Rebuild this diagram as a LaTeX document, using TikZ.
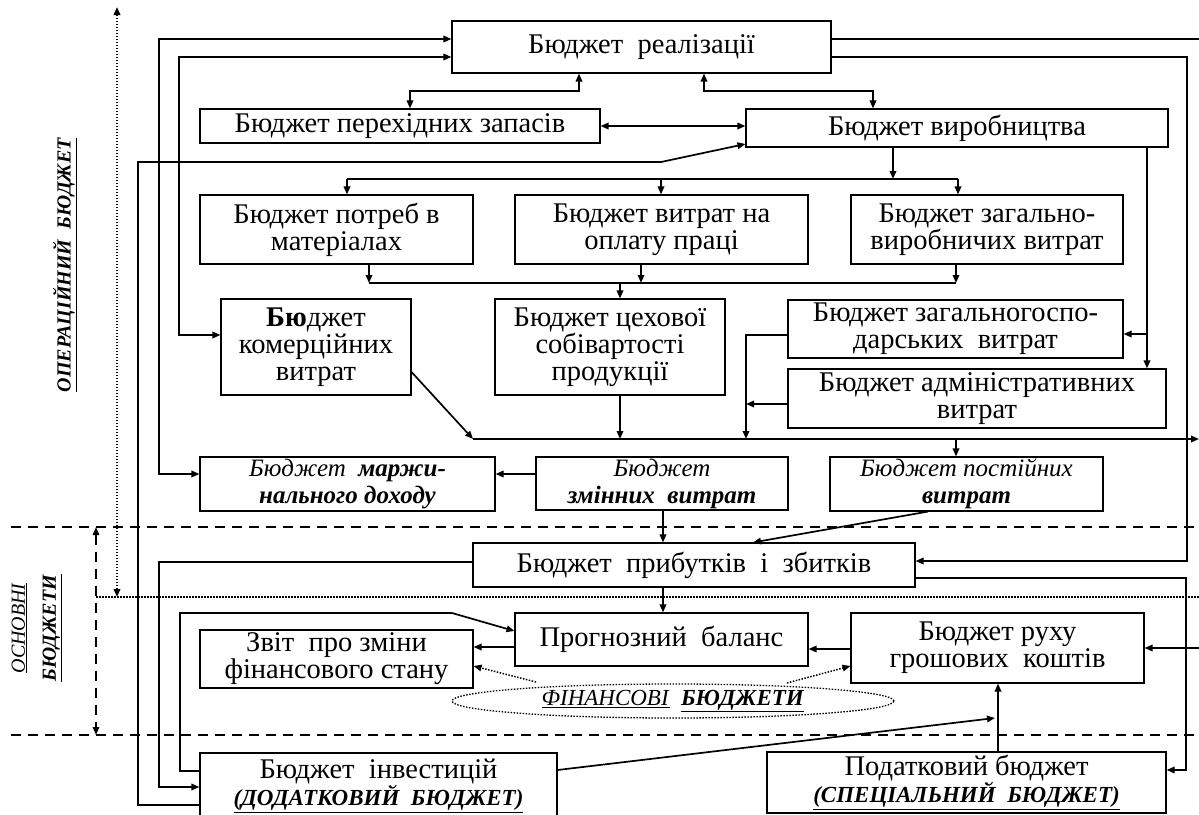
\documentclass[tikz,border=0pt]{standalone}
\usepackage{fontspec}
\setmainfont{Liberation Serif}
\usetikzlibrary{arrows.meta,shapes.geometric}
\newcommand{\bxfont}{\fontsize{28.5}{27}\selectfont}
\newcommand{\itfont}{\fontsize{25}{27}\selectfont}
\newcommand{\capfont}{\fontsize{23}{26}\selectfont}
\begin{document}
\begin{tikzpicture}[x=1pt,y=-1pt,
  box/.style={draw, line width=1.1pt, align=center, inner sep=0pt, font=\bxfont},
  ibox/.style={box, font=\itfont},
  con/.style={line width=1.7pt},
  tip/.tip={Triangle[length=8pt,width=6.5pt]},
  arr/.style={con, -tip},
  darr/.style={con, tip-tip},
  sep/.style={line width=1.5pt, dash pattern=on 10pt off 7pt},
  dotl/.style={line width=1.5pt, dash pattern=on 1.5pt off 1.5pt},
]
\useasboundingbox (0,0) rectangle (1199,814);
\clip (0,0) rectangle (1199,814);

% boxes
\node[box, minimum width=379pt, minimum height=52pt] (real) at (641.5,47) {Бюджет\ \ реалізації};
\node[box, minimum width=400pt, minimum height=34pt] (zap) at (400,126) {Бюджет перехідних запасів};
\node[box, minimum width=422pt, minimum height=38pt] (vyr) at (957,128) {Бюджет виробництва};
\node[box, minimum width=273pt, minimum height=69pt] (potr) at (336.5,229.5) {Бюджет потреб в\\матеріалах};
\node[box, minimum width=293pt, minimum height=69pt] (opl) at (661.5,229.5) {Бюджет витрат на\\оплату праці};
\node[box, minimum width=272pt, minimum height=69pt] (zagv) at (987,229.5) {Бюджет загально-\\виробничих витрат};
\node[box, minimum width=190pt, minimum height=96pt] (kom) at (316,347) {\textbf{Бю}джет\\комерційних\\витрат};
\node[box, minimum width=230pt, minimum height=96pt] (tsekh) at (610,347) {Бюджет цехової\\собівартості\\продукції};
\node[box, minimum width=335pt, minimum height=58pt] (zagg) at (955.5,329) {Бюджет загальногоспо-\\дарських\ \ витрат};
\node[box, minimum width=378pt, minimum height=59pt] (adm) at (977,398.5) {Бюджет адміністративних\\витрат};
\node[ibox, minimum width=295pt, minimum height=54pt] (marzh) at (347.5,484) {\textit{Бюджет}\ \ \textbf{\textit{маржи-}}\\\textbf{\textit{нального доходу}}};
\node[ibox, minimum width=252pt, minimum height=53pt] (zmin) at (662,483.5) {\textit{Бюджет}\\\textbf{\textit{змінних\ \ витрат}}};
\node[ibox, minimum width=273pt, minimum height=54pt] (post) at (966.5,484) {\textit{Бюджет постійних}\\\textbf{\textit{витрат}}};
\node[box, minimum width=442pt, minimum height=44pt] (prib) at (694,565) {Бюджет\ \ прибутків\ \ і\ \ збитків};
\node[box, minimum width=293pt, minimum height=53pt] (prog) at (661.5,639.5) {Прогнозний\ \ баланс};
\node[box, minimum width=273pt, minimum height=58pt] (zvit) at (336.5,659) {Звіт\ \ про зміни\\фінансового стану};
\node[box, minimum width=293pt, minimum height=70pt] (rukh) at (997.5,648) {Бюджет руху\\грошових\ \ коштів};
\node[box, minimum width=357pt, minimum height=66pt] (inv) at (378.5,786) {Бюджет\ \ інвестицій\\{\capfont\underline{\textbf{\textit{(ДОДАТКОВИЙ\ \ БЮДЖЕТ)}}}}};
\node[box, minimum width=399pt, minimum height=61pt] (podat) at (966.5,782.5) {Податковий бюджет\\{\capfont\underline{\textbf{\textit{(СПЕЦІАЛЬНИЙ\ \ БЮДЖЕТ)}}}}};
\node[draw, ellipse, dotl, line width=1.3pt, minimum width=442pt, minimum height=34pt, inner sep=0pt, font=\fontsize{23}{24}\selectfont] (fin) at (673,701) {\underline{\textit{ФІНАНСОВІ}}\ \ \underline{\textbf{\textit{БЮДЖЕТИ}}}};

% side labels
\node[rotate=90, font=\fontsize{20}{22}\selectfont] (oplab) at (65,265) {\underline{\textbf{\textit{ОПЕРАЦІЙНИЙ\ \ БЮДЖЕТ}}}};
\node[rotate=90, align=center, font=\fontsize{20}{31}\selectfont] (oslab) at (37,628) {\underline{\textit{ОСНОВНІ}}\\\underline{\textbf{\textit{БЮДЖЕТИ}}}};

% separators
\coordinate (sa) at (11,527); \coordinate (sb) at (1199,527);
\coordinate (sc) at (11,735); \coordinate (sd) at (1199,735);
\coordinate (se) at (96,597); \coordinate (sf) at (1199,597);
\draw[sep] (sa) -- (sb);
\draw[sep] (sc) -- (sd);
\draw[dotl] (se) -- (sf);
\coordinate (va) at (96,527); \coordinate (vb) at (96,735);
\draw[sep, tip-tip] (va) -- (vb);
\coordinate (vc) at (117,7); \coordinate (vd) at (117,597);
\draw[dotl, line width=2pt, tip-tip] (vc) -- (vd);

% top connections
\draw[darr] (real.south -| 579,0) -- (579,91) -- (410,91) -- (zap.north -| 410,0);
\draw[darr] (real.south -| 704,0) -- (704,91) -- (873,91) -- (vyr.north -| 873,0);
\draw[darr] (zap.east) -- (vyr.west |- zap.east);
\draw[arr] (inv.west |- 0,805) -- (138,805) -- (138,162) -- (661,162) -- (vyr.west |- 0,144);
\draw[darr] (real.west |- 0,57) -- (179,57) -- (179,335) -- (kom.west |- 0,335);
\draw[darr] (real.west |- 0,39) -- (159,39) -- (159,474) -- (marzh.west |- 0,474);

% distribution from production budget
\coordinate (d1) at (347,179); \coordinate (d2) at (958,179);
\coordinate (dm) at (893,179); \coordinate (dc) at (661,179);
\draw[arr] (vyr.south -| dm) -- (dm);
\draw[con] (d1) -- (d2);
\draw[arr] (d1) -- (potr.north -| d1);
\draw[arr] (dc) -- (opl.north -| dc);
\draw[arr] (d2) -- (zagv.north -| d2);

% collector to shop cost
\coordinate (c1) at (369,283); \coordinate (c2) at (641,283);
\coordinate (c3) at (956,283); \coordinate (c4) at (620,283);
\draw[arr] (potr.south -| c1) -- (c1);
\draw[arr] (opl.south -| c2) -- (c2);
\draw[arr] (zagv.south -| c3) -- (c3);
\draw[con] (c1) -- (c3);
\draw[arr] (c4) -- (tsekh.north -| c4);

% production to admin / general
\coordinate (g1) at (1147,334);
\draw[arr] (vyr.south -| 1147,0) -- (adm.north -| 1147,0);
\draw[arr] (g1) -- (zagg.east |- g1);

% cost collector line
\coordinate (h0) at (473,439); \coordinate (h1) at (1199,439);
\coordinate (h2) at (620,439); \coordinate (h3) at (746,439); \coordinate (h4) at (956,439);
\draw[arr] (kom.east |- 0,372) -- (h0);
\draw[arr] (h0) -- (h1);
\draw[arr] (tsekh.south -| h2) -- (h2);
\draw[arr] (zagg.west |- 0,335) -- (746,335) -- (h3);
\draw[arr] (adm.west |- 0,404) -- (746,404);
\draw[arr] (h4) -- (post.north -| h4);

% variable / margin / profit
\draw[arr] (zmin.west |- 0,474) -- (marzh.east |- 0,474);
\draw[arr] (zmin.south -| 663,0) -- (prib.north -| 663,0);
\draw[arr] (post.south -| 928,0) -- (prib.north -| 753,0);
\draw[arr] (real.east |- 0,57) -- (1187,57) -- (1187,561) -- (prib.east |- 0,561);
\draw[arr] (real.east |- 0,39) -- (1215,39) -- (1215,648) -- (rukh.east |- 0,648);
\draw[arr] (prib.east |- 0,578) -- (1186,578) -- (1186,770) -- (podat.east |- 0,770);
\draw[arr] (prib.west |- 0,562) -- (159,562) -- (159,787) -- (inv.west |- 0,787);
\draw[arr] (prib.south -| 663,0) -- (prog.north -| 663,0);

% financial budgets
\draw[arr] (prog.west |- 0,647) -- (zvit.east |- 0,647);
\draw[arr] (inv.west |- 0,771) -- (180,771) -- (180,613) -- (452,613) -- (prog.west |- 0,631);
\draw[arr] (rukh.west |- 0,649) -- (prog.east |- 0,649);
\coordinate (t1) at (995,718);
\draw[arr] (inv.east |- 0,770) -- (t1);
\draw[arr] (podat.north -| 998,0) -- (rukh.south -| 998,0);
\coordinate (f1) at (536,682); \coordinate (f2) at (787,683);
\draw[dotl, -tip] (f1) -- (zvit.east |- 0,666);
\draw[dotl, -tip] (f2) -- (rukh.west |- 0,666);
\end{tikzpicture}
\end{document}
